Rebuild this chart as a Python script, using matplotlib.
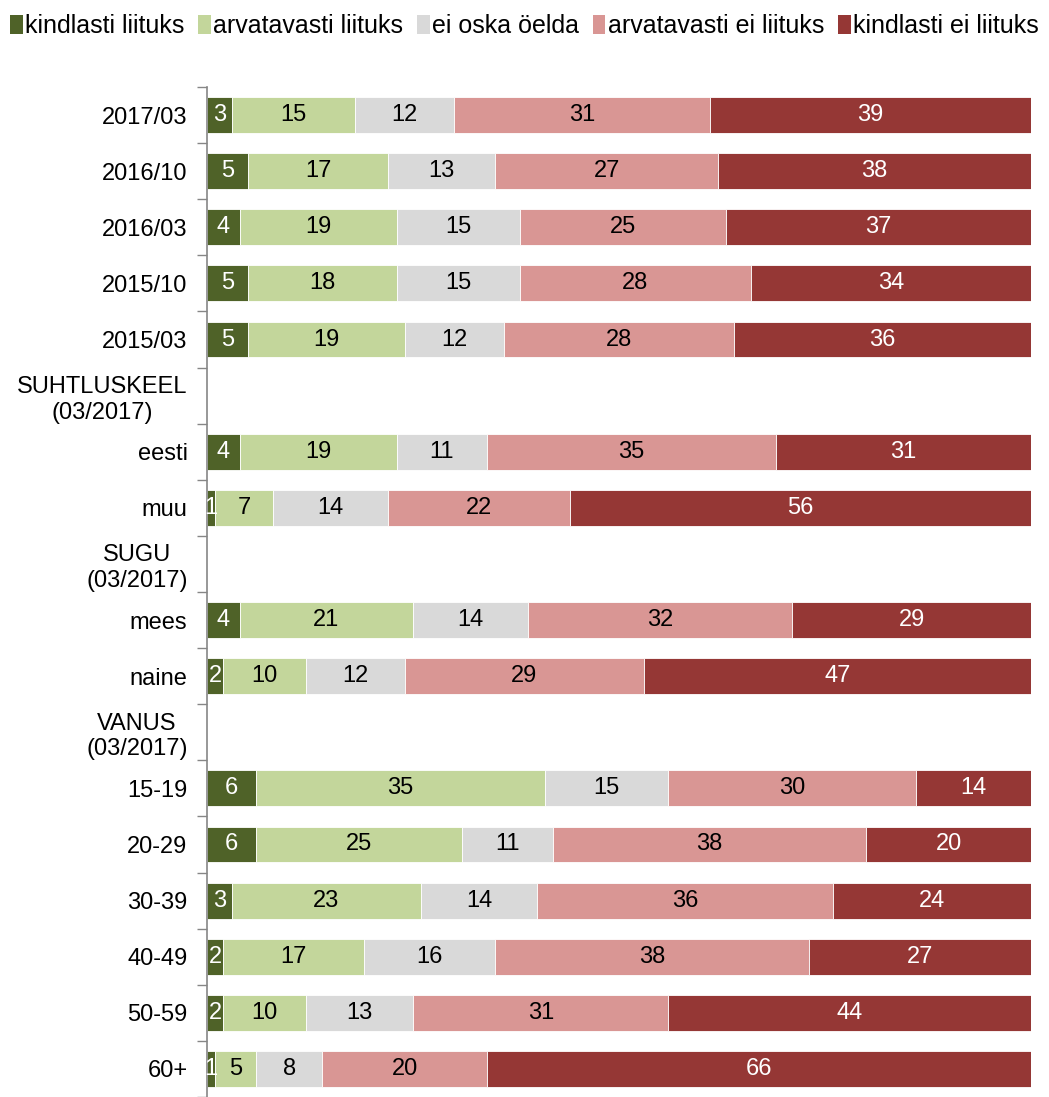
import numpy as np
import matplotlib.pyplot as plt
from matplotlib.patches import Patch

# Row labels (top to bottom); empty rows are group headers
rows = ["2017/03", "2016/10", "2016/03", "2015/10", "2015/03",
        "SUHTLUSKEEL\n(03/2017)", "eesti", "muu",
        "SUGU\n(03/2017)", "mees", "naine",
        "VANUS\n(03/2017)", "15-19", "20-29", "30-39", "40-49", "50-59", "60+"]

series = ["kindlasti liituks", "arvatavasti liituks", "ei oska öelda",
          "arvatavasti ei liituks", "kindlasti ei liituks"]

kindlasti_liituks = [3, 5, 4, 5, 5, None, 4, 1, None, 4, 2, None, 6, 6, 3, 2, 2, 1]
arvatavasti_liituks = [15, 17, 19, 18, 19, None, 19, 7, None, 21, 10, None, 35, 25, 23, 17, 10, 5]
ei_oska = [12, 13, 15, 15, 12, None, 11, 14, None, 14, 12, None, 15, 11, 14, 16, 13, 8]
arvatavasti_ei = [31, 27, 25, 28, 28, None, 35, 22, None, 32, 29, None, 30, 38, 36, 38, 31, 20]
kindlasti_ei = [39, 38, 37, 34, 36, None, 31, 56, None, 29, 47, None, 14, 20, 24, 27, 44, 66]

colors = ["#4F6228", "#C3D69B", "#D9D9D9", "#D99694", "#953735"]
text_colors = ["white", "black", "black", "black", "white"]

plt.rcParams['font.family'] = ['Liberation Sans', 'DejaVu Sans']

fig = plt.figure(figsize=(10.49, 10.97), dpi=100)
ax = fig.add_axes([207 / 1049, 0.0, 824 / 1049, 1 - 87 / 1097])

n = len(rows)
y = np.arange(n)
data = [kindlasti_liituks, arvatavasti_liituks, ei_oska, arvatavasti_ei, kindlasti_ei]

left = np.zeros(n)
for vals, col, tcol in zip(data, colors, text_colors):
    v = np.array([0 if x is None else x for x in vals], dtype=float)
    ax.barh(y, v, left=left, height=0.64, color=col, edgecolor='white', linewidth=0.6)
    for i, x in enumerate(vals):
        if x is None:
            continue
        ax.text(left[i] + x / 2, y[i], str(x), ha='center', va='center',
                fontsize=17, color=tcol)
    left += v

ax.set_xlim(0, 100)
ax.set_ylim(n - 0.5, -0.5)
ax.set_yticks(y)
ax.set_yticklabels(rows, fontsize=17, multialignment='center')
ax.set_yticks(np.arange(-0.5, n, 1.0), minor=True)
ax.tick_params(axis='y', which='major', length=0, pad=14)
ax.tick_params(axis='y', which='minor', length=7, color='#868686', width=1)
ax.set_xticks([])
for s in ['top', 'right', 'bottom']:
    ax.spines[s].set_visible(False)
ax.spines['left'].set_color('#868686')
ax.spines['left'].set_linewidth(1.2)

handles = [Patch(facecolor=c, edgecolor='none') for c in colors]
fig.legend(handles, series, loc='center', bbox_to_anchor=(0.5, 1 - 26 / 1097),
           ncol=5, frameon=False, handlelength=0.5, handleheight=0.8,
           handletextpad=0.1, columnspacing=0.55,
           prop={'size': 18})

fig.savefig('out.png', dpi=100)
